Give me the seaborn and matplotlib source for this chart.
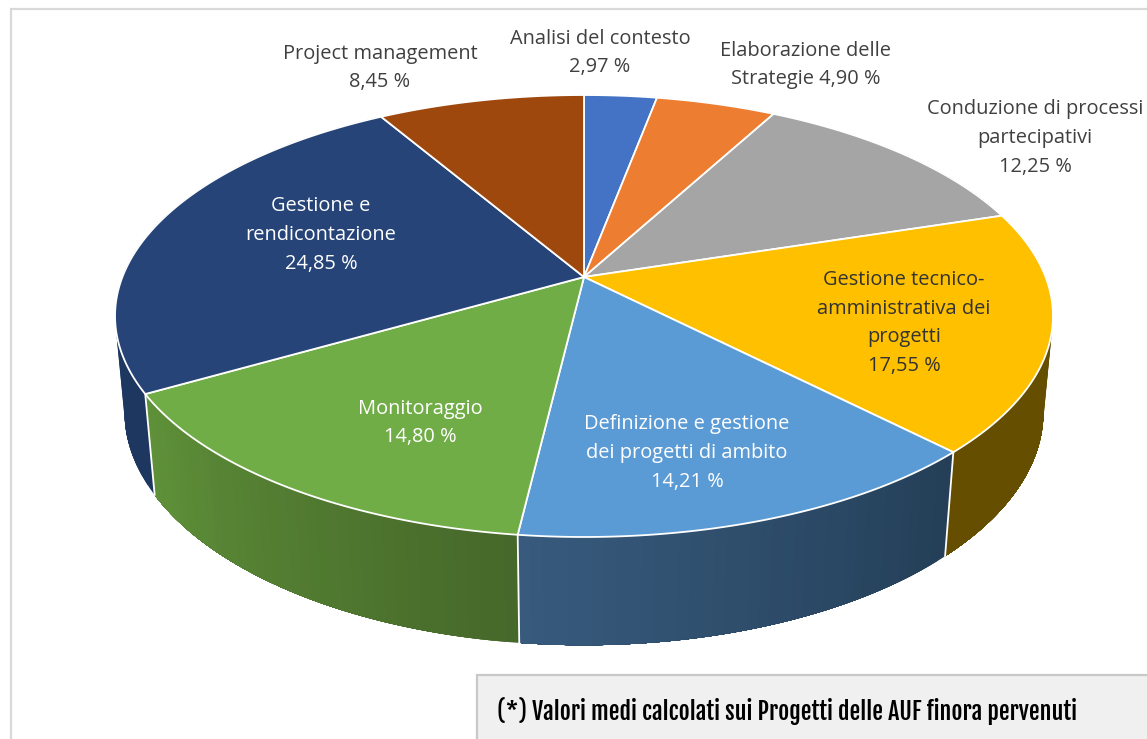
import numpy as np
import matplotlib.pyplot as plt
from matplotlib.patches import Rectangle
import seaborn as sns

W, H = 1147, 739

# data
categories = [
    "Analisi del contesto\n{}",
    "Elaborazione delle\nStrategie {}",
    "Conduzione di processi\npartecipativi\n{}",
    "Gestione tecnico-\namministrativa dei\nprogetti\n{}",
    "Definizione e gestione\ndei progetti di ambito\n{}",
    "Monitoraggio\n{}",
    "Gestione e\nrendicontazione\n{}",
    "Project management\n{}",
]
values = [2.97, 4.90, 12.25, 17.55, 14.21, 14.80, 24.85, 8.45]
footnote = "(*) Valori medi calcolati sui Progetti delle AUF finora pervenuti"

# styles
top_colors = ["#4472C4", "#ED7D31", "#A5A5A5", "#FFC000",
              "#5B9BD5", "#70AD47", "#264478", "#9E480E"]
side_start = ["#2F4F88", "#A55722", "#737373", "#654E00",
              "#375A7D", "#5F9139", "#1E3760", "#6E320A"]
side_end = ["#2F4F88", "#A55722", "#737373", "#654E00",
            "#243F57", "#46682A", "#1E3760", "#6E320A"]
text_colors = ["#404040", "#404040", "#404040", "#333333",
               "white", "white", "white", "#404040"]
label_x = [600, 806, 1035, 904, 687, 420, 321, 380]
label_y = [53, 65, 138, 323, 453, 423, 235, 68]

# perspective of the 3d pie, in pixels
CX, CY = 584, 277
A, B = 461.6, 214.1
K = 0.1765      # foreshortening front/back
DEPTH_Y, DEPTH_W = 96.5, 0.02


def project(theta, z=0.0):
    # theta clockwise from 12 o'clock, z=0 top face, z=1 bottom face
    u = np.sin(theta)
    v = -np.cos(theta)
    w = 1 - K * v + DEPTH_W * z
    return CX + A * u / w, CY + (B * v + DEPTH_Y * z) / w


sns.set_theme(style="white")
plt.rcParams['font.family'] = ['Open Sans', 'DejaVu Sans']

fig = plt.figure(figsize=(W / 100, H / 100), dpi=100)
ax = fig.add_axes([0, 0, 1, 1])
ax.set_xlim(0, W)
ax.set_ylim(H, 0)
ax.axis('off')

# outer frame
ax.add_patch(Rectangle((11, 9), W + 20, H + 20, fc='white', ec='#D9D9D9', lw=1.6, zorder=0))

edges = np.cumsum([0] + values) / sum(values) * 2 * np.pi

for i in range(len(values)):
    # side wall: painted from the far end so the strips leave no seams
    n = 40
    strips = np.linspace(edges[i], edges[i + 1], n + 1)
    pal = sns.blend_palette([side_start[i], side_end[i]], n)
    for j in range(n):
        a = np.linspace(strips[j], edges[i + 1], 60)
        xt, yt = project(a)
        xb, yb = project(a, 1)
        ax.fill(np.r_[xt, xb[::-1]], np.r_[yt, yb[::-1]], fc=pal[n - 1 - j], lw=0, zorder=1)

for t in edges:
    xt, yt = project(t)
    xb, yb = project(t, 1)
    ax.plot([xt, xb], [yt, yb], color='white', lw=1.3, zorder=1.5)

# top face
for i in range(len(values)):
    a = np.linspace(edges[i], edges[i + 1], 200)
    xt, yt = project(a)
    ax.fill(np.r_[CX, xt], np.r_[CY, yt], fc=top_colors[i], ec='white', lw=1.3, joinstyle='round', zorder=2)

for i, cat in enumerate(categories):
    pct = f"{values[i]:.2f}".replace('.', ',') + " %"
    ax.text(label_x[i], label_y[i], cat.format(pct), ha='center', va='center', fontsize=14.4,
            color=text_colors[i], linespacing=1.57, zorder=3)

# note box
ax.add_patch(Rectangle((477, 675), W, H, fc='#F0F0F0', ec='#C8C8C8', lw=1.6, zorder=3))
ax.text(497, 711, footnote, ha='left', va='center', fontsize=17.2,
        family=['Fjalla One', 'Oswald', 'Liberation Sans Narrow', 'DejaVu Sans'], color='black', zorder=4)

fig.savefig('out.png', dpi=100)
